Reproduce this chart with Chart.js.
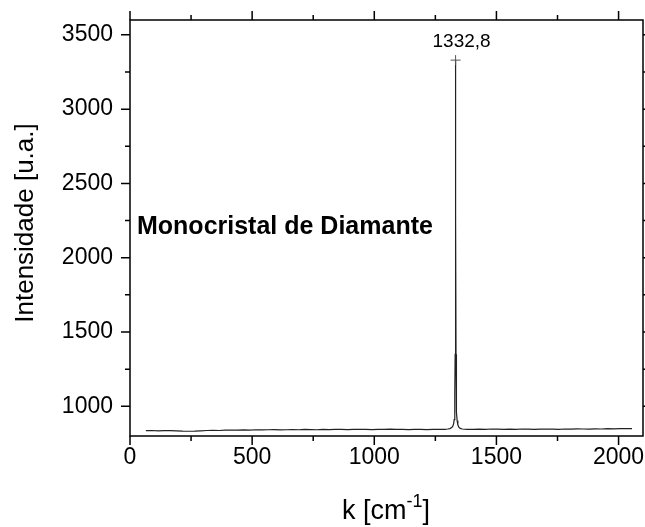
<!DOCTYPE html>
<html>
<head>
<meta charset="utf-8">
<script src="https://cdn.jsdelivr.net/npm/chart.js@4/dist/chart.umd.min.js"></script>
<style>
  html, body { margin: 0; padding: 0; background: #fff; }
  #c { display: block; }
</style>
</head>
<body>
<canvas id="c" width="645" height="527"></canvas>
<script>
// Raman spectrum
const waveNumbers = [
  65, 90, 115, 140, 165, 190, 215, 240, 265, 290, 315, 340, 365, 390, 415, 440, 465, 490,
  515, 540, 565, 590, 615, 640, 665, 690, 715, 740, 765, 790, 815, 840, 865, 890, 915, 940,
  965, 990, 1015, 1040, 1065, 1090, 1115, 1140, 1165, 1190, 1215, 1240, 1265, 1290,
  1300, 1310, 1318, 1322, 1325, 1327, 1329, 1330, 1331, 1332, 1332.8, 1333.6, 1334.6, 1335.6,
  1337, 1339, 1342, 1346, 1352, 1360,
  1380, 1405, 1430, 1455, 1480, 1505, 1530, 1555, 1580, 1605, 1630, 1655, 1680, 1705,
  1730, 1755, 1780, 1805, 1830, 1855, 1880, 1905, 1930, 1955, 1980, 2005, 2030, 2055
];
const intensities = [
  836, 837, 835, 836, 836, 835, 833, 832, 833, 835, 837, 838, 837, 839, 840, 839, 841, 840,
  842, 841, 842, 843, 841, 842, 843, 842, 844, 843, 842, 844, 843, 845, 844, 843, 845, 844,
  845, 843, 844, 845, 846, 844, 845, 843, 844, 845, 843, 844, 845, 845,
  847, 850, 858, 868, 885, 910, 980, 1080, 1350, 2300, 3330, 2300, 1350, 1080,
  960, 905, 875, 860, 851, 847,
  845, 844, 846, 845, 847, 846, 845, 846, 845, 847, 846, 845, 846, 847,
  846, 845, 847, 846, 848, 847, 846, 848, 847, 849, 848, 849, 850, 849
];
const peakPos = [1332.8];
const peakVal = [3330];
const peakText = ['1332,8'];

// tick positions (major + minor) and the labelled ones
const xTickValues = [0, 250, 500, 750, 1000, 1250, 1500, 1750, 2000];
const yTickValues = [1000, 1250, 1500, 1750, 2000, 2250, 2500, 2750, 3000, 3250, 3500];
const xTickLabels = [0, 500, 1000, 1500, 2000];
const yTickLabels = [1000, 1500, 2000, 2500, 3000, 3500];

const FONT = '"Liberation Sans", Arial, sans-serif';

// frame, ticks on all four sides, annotations
const decor = {
  id: 'decor',
  afterDraw(chart){
    const ctx = chart.ctx;
    const a = chart.chartArea;
    const xs = chart.scales.x, ys = chart.scales.y;
    ctx.save();
    ctx.strokeStyle = '#000';
    ctx.lineWidth = 1.5;
    ctx.strokeRect(a.left, a.top, a.right - a.left, a.bottom - a.top);

    ctx.beginPath();
    xs.ticks.forEach(t => {
      const px = xs.getPixelForValue(t.value);
      const len = xTickLabels.includes(t.value) ? 9 : 5;
      ctx.moveTo(px, a.bottom); ctx.lineTo(px, a.bottom + len);
      ctx.moveTo(px, a.top); ctx.lineTo(px, a.top - len);
    });
    ys.ticks.forEach(t => {
      const py = ys.getPixelForValue(t.value);
      const len = yTickLabels.includes(t.value) ? 9 : 5;
      ctx.moveTo(a.left, py); ctx.lineTo(a.left - len, py);
      ctx.moveTo(a.right, py); ctx.lineTo(a.right + len, py);
    });
    ctx.stroke();

    ctx.fillStyle = '#000';
    // peak label
    ctx.font = '19px ' + FONT;
    ctx.textAlign = 'center';
    ctx.textBaseline = 'alphabetic';
    peakPos.forEach((p, i) => {
      ctx.fillText(peakText[i], xs.getPixelForValue(p) + 6, ys.getPixelForValue(peakVal[i]) - 13);
    });

    // sample name
    ctx.font = 'bold 25px ' + FONT;
    ctx.textAlign = 'left';
    ctx.fillText('Monocristal de Diamante', 137, 234);

    // y title
    ctx.save();
    ctx.translate(33, 223);
    ctx.rotate(-Math.PI / 2);
    ctx.font = '26px ' + FONT;
    ctx.textAlign = 'center';
    ctx.fillText('Intensidade [u.a.]', 0, 0);
    ctx.restore();

    // x title with superscript
    const big = '27px ' + FONT, small = '18px ' + FONT;
    ctx.font = big;
    const w1 = ctx.measureText('k [cm').width;
    const w3 = ctx.measureText(']').width;
    ctx.font = small;
    const w2 = ctx.measureText('-1').width;
    let x0 = 386 - (w1 + w2 + w3) / 2;
    const base = 519;
    ctx.textAlign = 'left';
    ctx.font = big; ctx.fillText('k [cm', x0, base);
    ctx.font = small; ctx.fillText('-1', x0 + w1, base - 12);
    ctx.font = big; ctx.fillText(']', x0 + w1 + w2, base);
    ctx.restore();
  }
};

new Chart(document.getElementById('c'), {
  type: 'line',
  data: {
    datasets: [
      {
        data: waveNumbers.map((x, i) => ({ x, y: intensities[i] })),
        borderColor: '#222',
        borderWidth: 1.2,
        tension: 0,
        // only the marked peak gets a cross
        pointStyle: 'cross',
        pointRadius: c => peakPos.includes(waveNumbers[c.dataIndex]) ? 5 : 0,
        pointHoverRadius: 0,
        pointBorderWidth: 1,
        pointBorderColor: '#555'
      }
    ]
  },
  options: {
    responsive: false,
    animation: false,
    layout: { padding: { top: 20, right: 2, left: 0, bottom: 0 } },
    plugins: { legend: { display: false }, tooltip: { enabled: false } },
    scales: {
      x: {
        type: 'linear',
        min: 0, max: 2100,
        grid: { display: false },
        border: { display: false },
        afterBuildTicks: s => { s.ticks = xTickValues.map(v => ({ value: v })); },
        ticks: {
          autoSkip: false, maxRotation: 0,
          padding: 0, color: '#000', font: { family: FONT, size: 23 },
          callback: v => xTickLabels.includes(v) ? String(v) : ''
        },
        afterFit: s => { s.height = 91; s.paddingLeft = 0; s.paddingRight = 0; }
      },
      y: {
        min: 800, max: 3600,
        grid: { display: false },
        border: { display: false },
        afterBuildTicks: s => { s.ticks = yTickValues.map(v => ({ value: v })); },
        ticks: {
          autoSkip: false,
          padding: 9, color: '#000', font: { family: FONT, size: 23 },
          callback: v => yTickLabels.includes(v) ? String(v) : ''
        },
        afterFit: s => { s.width = 130; s.paddingTop = 0; s.paddingBottom = 0; }
      }
    }
  },
  plugins: [decor]
});
</script>
</body>
</html>
